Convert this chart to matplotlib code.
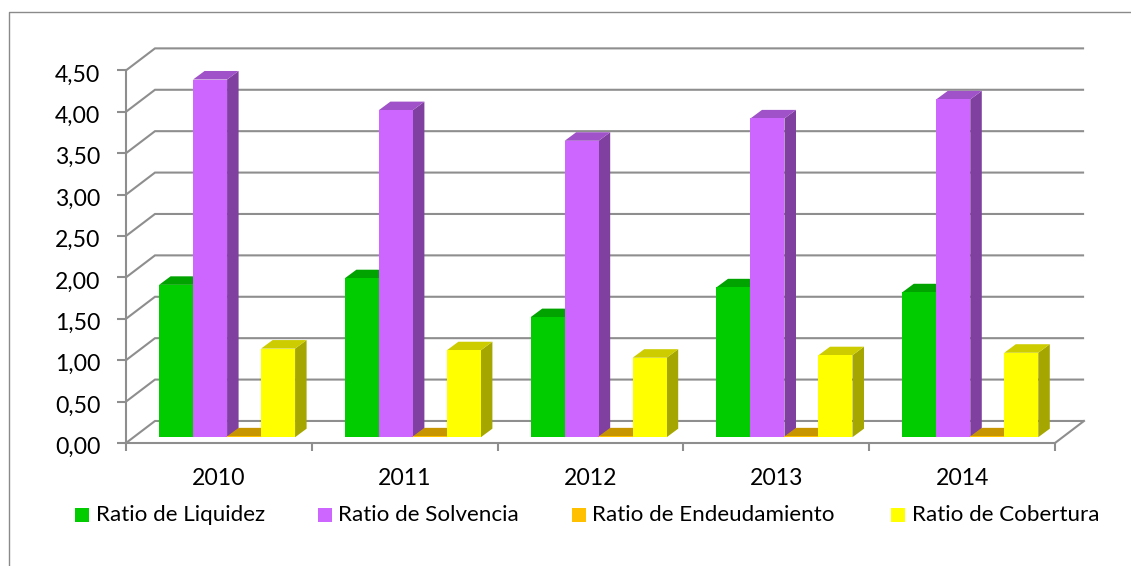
import matplotlib.pyplot as plt
from matplotlib.patches import Polygon, Rectangle
from matplotlib.lines import Line2D
from matplotlib.transforms import ScaledTranslation

years = ['2010', '2011', '2012', '2013', '2014']
liquidez = [1.84, 1.92, 1.45, 1.81, 1.75]
solvencia = [4.32, 3.95, 3.58, 3.85, 4.08]
endeudamiento = [0.01, 0.01, 0.01, 0.01, 0.01]
cobertura = [1.07, 1.05, 0.96, 0.99, 1.02]
y_ticks = [0, 0.5, 1, 1.5, 2, 2.5, 3, 3.5, 4, 4.5]
y_tick_labels = ['0,00', '0,50', '1,00', '1,50', '2,00', '2,50', '3,00', '3,50', '4,00', '4,50']

W, H = 1131, 566
GREY = '#8E8E8E'
FONT = 'Lato'
FS = 16.6

# (label, values, front, top, side)
series = [
    ('Ratio de Liquidez', liquidez, '#00CC00', '#00A300', '#008F00'),
    ('Ratio de Solvencia', solvencia, '#CC66FF', '#A052C8', '#8040A0'),
    ('Ratio de Endeudamiento', endeudamiento, '#FFC000', '#C69500', '#A67C00'),
    ('Ratio de Cobertura', cobertura, '#FFFF00', '#CCCC00', '#A6A600'),
]

fig = plt.figure(figsize=(W / 100, H / 100), dpi=100)
ax = fig.add_axes([126 / W, (H - 443) / H, 929 / W, 372.6 / H])
ax.set_xlim(0, len(years))
ax.set_ylim(0, 4.5)

# profundidad de la pared y de las barras, en unidades de datos
wall_dx, wall_dy = 0.156, 0.266
plane_dx, plane_dy = 0.04, 0.07
bar_dx, bar_dy = 0.062, 0.103
bar_w = 0.183
n = len(years)

for t in y_ticks:
    ax.plot([0, wall_dx, n + wall_dx - 0.005], [t, t + wall_dy, t + wall_dy],
            color=GREY, lw=1.5, clip_on=False, zorder=1, solid_joinstyle='miter')
ax.plot([n, n + wall_dx], [0, wall_dy], color=GREY, lw=1.5, clip_on=False, zorder=1)

for i in range(n):
    x0 = i + plane_dx + (1 - 4 * bar_w) / 2 + 0.004
    y0 = plane_dy
    for j, (label, vals, front, top, side) in enumerate(series):
        x = x0 + j * bar_w
        y = y0 + vals[i]
        ax.add_patch(Polygon([(x + bar_w, y0), (x + bar_w + bar_dx, y0 + bar_dy),
                              (x + bar_w + bar_dx, y + bar_dy), (x + bar_w, y)],
                             fc=side, ec='none', clip_on=False, zorder=3))
        ax.add_patch(Polygon([(x, y), (x + bar_dx, y + bar_dy),
                              (x + bar_w + bar_dx, y + bar_dy), (x + bar_w, y)],
                             fc=top, ec='none', clip_on=False, zorder=3))
        ax.add_patch(Rectangle((x, y0), bar_w, vals[i], fc=front, ec='none',
                               clip_on=False, zorder=3))

for s in ['top', 'right']:
    ax.spines[s].set_visible(False)
for s in ['left', 'bottom']:
    ax.spines[s].set_color(GREY)
    ax.spines[s].set_linewidth(1.5)
    ax.spines[s].set_zorder(2)

ax.set_yticks(y_ticks)
ax.set_yticklabels(y_tick_labels, fontfamily=FONT, fontsize=FS, color='black')
ax.set_xticks(range(n + 1))
ax.set_xticklabels([])
ax.set_xticks([i + 0.5 for i in range(n)], minor=True)
ax.set_xticklabels(years, minor=True, fontfamily=FONT, fontsize=FS, color='black')
ax.tick_params(axis='y', length=6.5, width=1.5, color=GREY, pad=12)
ax.tick_params(axis='x', which='major', length=6, width=1.5, color=GREY)
ax.tick_params(axis='x', which='minor', length=0, pad=18)

# bajar un poco las etiquetas del eje y
shift = ScaledTranslation(0, -2.5 / 100, fig.dpi_scale_trans)
for lab in ax.get_yticklabels():
    lab.set_transform(lab.get_transform() + shift)

# leyenda colocada a mano, como en Excel
legend_x = [75, 318, 572, 891]
for (label, vals, front, top, side), lx in zip(series, legend_x):
    fig.add_artist(Rectangle((lx / W, (H - 522) / H), 14 / W, 14 / H, fc=front, ec='none',
                             transform=fig.transFigure))
    fig.text((lx + 20.5) / W, (H - 515) / H, label, family=FONT, fontsize=16.1,
             ha='left', va='center', color='black')

# borde del gráfico (solo arriba e izquierda)
fig.add_artist(Line2D([8.5 / W, 8.5 / W, 1], [0, (H - 12) / H, (H - 12) / H],
                      color='#8A8A8A', lw=1, transform=fig.transFigure))

fig.savefig('out.png', dpi=100)
